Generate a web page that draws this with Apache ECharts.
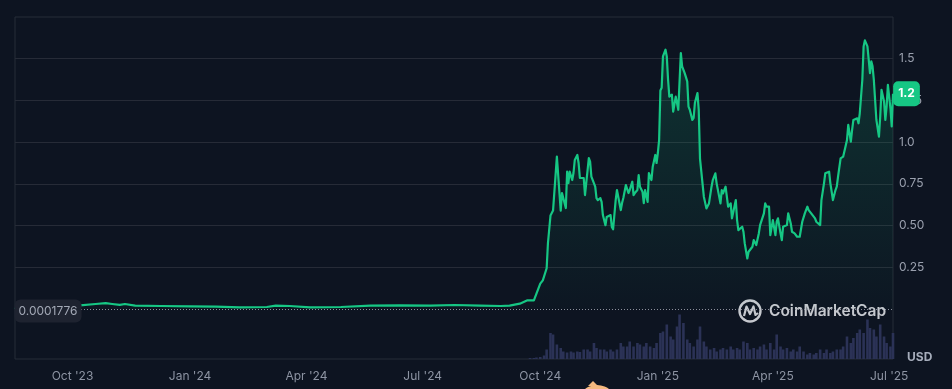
<!DOCTYPE html>
<html><head><meta charset="utf-8">
<script src="https://cdn.jsdelivr.net/npm/echarts@6/dist/echarts.min.js"></script>
<style>html,body{margin:0;padding:0;background:#0d1421;}#c{width:952px;height:389px;}</style>
</head><body><div id="c"></div>
<script>
const priceDates = [
'2023-08-17','2023-08-21','2023-09-22','2023-10-07','2023-10-19','2023-10-27','2023-11-01','2023-11-07','2023-11-11','2023-11-19','2023-12-09','2024-01-01','2024-01-21','2024-02-09','2024-03-01','2024-03-08','2024-03-19','2024-04-04','2024-04-28','2024-05-21','2024-06-13','2024-07-07','2024-07-26','2024-08-15','2024-08-31','2024-09-07',
'2024-09-15','2024-09-21','2024-09-26','2024-10-01','2024-10-03','2024-10-06','2024-10-07','2024-10-09','2024-10-11','2024-10-14','2024-10-17','2024-10-18','2024-10-19','2024-10-21','2024-10-22','2024-10-23','2024-10-24','2024-10-26','2024-10-27','2024-10-28','2024-10-30','2024-10-31',
'2024-11-01','2024-11-04','2024-11-05','2024-11-06','2024-11-08','2024-11-09','2024-11-10','2024-11-11','2024-11-13','2024-11-14','2024-11-15','2024-11-17','2024-11-18','2024-11-19','2024-11-21','2024-11-22','2024-11-23','2024-11-25','2024-11-26','2024-11-27','2024-11-29','2024-11-30',
'2024-12-01','2024-12-03','2024-12-04','2024-12-05','2024-12-07','2024-12-08','2024-12-09','2024-12-10','2024-12-12','2024-12-13','2024-12-14','2024-12-16','2024-12-17','2024-12-18','2024-12-20','2024-12-21','2024-12-22','2024-12-24','2024-12-25','2024-12-26','2024-12-27','2024-12-28','2024-12-30','2024-12-31',
'2025-01-01','2025-01-02','2025-01-03','2025-01-04','2025-01-05','2025-01-07','2025-01-08','2025-01-09','2025-01-10','2025-01-12','2025-01-13','2025-01-15','2025-01-16','2025-01-17','2025-01-19','2025-01-20','2025-01-21','2025-01-22','2025-01-24','2025-01-25','2025-01-26','2025-01-28','2025-01-29','2025-01-30',
'2025-02-01','2025-02-02','2025-02-03','2025-02-06','2025-02-08','2025-02-10','2025-02-11','2025-02-12','2025-02-13','2025-02-15','2025-02-16','2025-02-19','2025-02-20','2025-02-21','2025-02-23','2025-02-24','2025-02-25','2025-02-27','2025-02-28',
'2025-03-01','2025-03-03','2025-03-04','2025-03-05','2025-03-08','2025-03-09','2025-03-10','2025-03-12','2025-03-13','2025-03-14','2025-03-16','2025-03-17','2025-03-19','2025-03-21','2025-03-22','2025-03-23','2025-03-25','2025-03-26','2025-03-27','2025-03-29','2025-03-30','2025-03-31',
'2025-04-01','2025-04-03','2025-04-04','2025-04-05','2025-04-07','2025-04-08','2025-04-09','2025-04-12','2025-04-13','2025-04-15','2025-04-16','2025-04-18','2025-04-20','2025-04-22','2025-04-24','2025-04-25','2025-04-26','2025-04-28','2025-04-29',
'2025-05-01','2025-05-04','2025-05-05','2025-05-08','2025-05-09','2025-05-11','2025-05-12','2025-05-13','2025-05-15','2025-05-16','2025-05-17','2025-05-18','2025-05-20','2025-05-21','2025-05-22','2025-05-24','2025-05-26','2025-05-29','2025-05-30',
'2025-06-01','2025-06-02','2025-06-03','2025-06-04','2025-06-06','2025-06-07','2025-06-08','2025-06-10','2025-06-11','2025-06-12','2025-06-14','2025-06-15','2025-06-16','2025-06-17','2025-06-18','2025-06-19','2025-06-20','2025-06-21','2025-06-23','2025-06-24','2025-06-25','2025-06-27','2025-06-28','2025-06-29','2025-06-30',
'2025-07-02','2025-07-03','2025-07-04'
];
const priceValues = [
0.0001776,0.016,0.02,0.022,0.03,0.035,0.03,0.025,0.03,0.02,0.018,0.016,0.014,0.01,0.012,0.02,0.018,0.01,0.012,0.02,0.022,0.02,0.024,0.02,0.018,0.02,
0.032,0.052,0.052,0.152,0.172,0.244,0.394,0.56,0.59,0.913,0.59,0.695,0.695,0.605,0.823,0.755,0.823,0.773,0.815,0.893,0.923,0.875,
0.785,0.785,0.683,0.672,0.905,0.883,0.793,0.785,0.733,0.665,0.653,0.665,0.642,0.563,0.502,0.552,0.545,0.563,0.492,0.478,0.653,0.713,
0.713,0.593,0.635,0.665,0.743,0.733,0.695,0.713,0.763,0.683,0.695,0.713,0.803,0.733,0.703,0.635,0.713,0.642,0.815,0.793,0.773,0.853,0.923,0.875,
0.935,1.013,1.31,1.326,1.514,1.554,1.514,1.374,1.273,1.284,1.183,1.273,1.273,1.194,1.534,1.454,1.464,1.414,1.364,1.213,1.194,1.133,1.145,1.236,
1.294,1.194,0.9,0.673,0.603,0.633,0.633,0.733,0.773,0.813,0.753,0.633,0.713,0.693,0.733,0.733,0.613,0.633,0.543,
0.533,0.653,0.533,0.473,0.493,0.463,0.393,0.303,0.343,0.353,0.373,0.413,0.383,0.453,0.503,0.513,0.573,0.633,0.613,0.613,0.443,0.443,
0.533,0.443,0.523,0.543,0.453,0.413,0.493,0.503,0.573,0.513,0.463,0.453,0.433,0.433,0.523,0.533,0.573,0.613,0.593,
0.573,0.543,0.523,0.503,0.653,0.753,0.813,0.803,0.823,0.753,0.703,0.653,0.713,0.733,0.793,0.903,0.913,1.013,1.103,
1.003,1.073,1.133,1.123,1.143,1.113,1.173,1.374,1.574,1.61,1.574,1.494,1.414,1.484,1.454,1.374,1.254,1.133,1.033,1.154,1.314,1.244,1.133,1.213,1.344,
1.203,1.094,1.29
];
const volumeDates = [
'2024-09-23','2024-09-26','2024-09-28','2024-10-01','2024-10-04','2024-10-06','2024-10-09','2024-10-11','2024-10-14','2024-10-17','2024-10-19','2024-10-22','2024-10-25','2024-10-27','2024-10-30',
'2024-11-01','2024-11-04','2024-11-07','2024-11-09','2024-11-12','2024-11-14','2024-11-17','2024-11-20','2024-11-22','2024-11-25','2024-11-27','2024-11-30',
'2024-12-03','2024-12-05','2024-12-08','2024-12-10','2024-12-13','2024-12-16','2024-12-18','2024-12-21','2024-12-23','2024-12-26','2024-12-29','2024-12-31',
'2025-01-03','2025-01-05','2025-01-08','2025-01-11','2025-01-13','2025-01-16','2025-01-18','2025-01-21','2025-01-24','2025-01-26','2025-01-29',
'2025-02-01','2025-02-03','2025-02-06','2025-02-08','2025-02-11','2025-02-14','2025-02-16','2025-02-19','2025-02-21','2025-02-24','2025-02-27',
'2025-03-01','2025-03-04','2025-03-06','2025-03-09','2025-03-12','2025-03-14','2025-03-17','2025-03-20','2025-03-22','2025-03-25','2025-03-27','2025-03-30',
'2025-04-02','2025-04-04','2025-04-07','2025-04-09','2025-04-12','2025-04-15','2025-04-17','2025-04-20','2025-04-22','2025-04-25','2025-04-28','2025-04-30',
'2025-05-03','2025-05-05','2025-05-08','2025-05-11','2025-05-13','2025-05-16','2025-05-18','2025-05-21','2025-05-24','2025-05-26','2025-05-29',
'2025-06-01','2025-06-03','2025-06-06','2025-06-08','2025-06-11','2025-06-14','2025-06-16','2025-06-19','2025-06-21','2025-06-24','2025-06-27','2025-06-29',
'2025-07-02','2025-07-04'
];
const volumeValues = [
2,2,3,4,7,19,52,49,29,22,15,13,15,13,15,
14,19,19,15,32,22,19,19,15,19,15,19,
32,25,25,35,25,32,29,25,32,25,22,32,
52,55,69,45,39,65,89,72,39,32,25,
39,65,35,25,19,22,15,19,22,19,25,
19,22,19,35,32,19,22,19,25,29,19,32,
19,49,25,19,22,15,19,15,25,15,9,12,
9,12,19,12,19,12,15,19,19,25,45,
32,42,52,59,52,79,62,59,45,69,45,32,
25,52
];
const xTickDates = ['2023-10-01','2024-01-01','2024-04-01','2024-07-01','2024-10-01','2025-01-01','2025-04-01','2025-07-01'];
const xTickLabels = ["Oct '23","Jan '24","Apr '24","Jul '24","Oct '24","Jan '25","Apr '25","Jul '25"];
const yTickValues = [0.25,0.5,0.75,1,1.25,1.5];
const yTickLabels = ['0.25','0.50','0.75','1.0','1.25','1.5'];
const baselineValue = 0.0001776;
const baselineLabel = '0.0001776';
const lastPriceLabel = '1.2';
const axisMinDate = '2023-08-17';
const axisMaxDate = '2025-07-04';
const currencyLabel = 'USD';
const watermarkText = 'CoinMarketCap';

const ts = s => Date.parse(s + 'T00:00:00Z');
const xMin = ts(axisMinDate), xMax = ts(axisMaxDate);
const xTicks = xTickDates.map(ts);
const priceData = priceDates.map((d, i) => [ts(d), priceValues[i]]);
const volumeData = volumeDates.map((d, i) => [ts(d), volumeValues[i]]);
const first = priceData[0], last = priceData[priceData.length - 1];

const chart = echarts.init(document.getElementById('c'), null, {renderer: 'canvas'});
const FONT = 'Inter, "Noto Sans", sans-serif';
chart.setOption({
  backgroundColor: '#0d1421',
  animation: false,
  grid: [
    {left: 15, right: 59, top: 17, bottom: 80},
    {left: 15, right: 59, top: 17, bottom: 30, show: true, borderColor: '#272c38', borderWidth: 1, backgroundColor: 'transparent'}
  ],
  xAxis: [
    {gridIndex: 0, type: 'value', min: xMin, max: xMax, show: false},
    {gridIndex: 1, type: 'value', min: xMin, max: xMax,
     axisLine: {show: false}, axisTick: {show: false}, splitLine: {show: false},
     axisLabel: {customValues: xTicks, margin: 11, color: '#8d94a3', fontSize: 12, fontFamily: FONT,
       formatter: v => { const i = xTicks.indexOf(v); return i >= 0 ? xTickLabels[i] : ''; }}}
  ],
  yAxis: [
    {gridIndex: 0, type: 'value', position: 'right', min: 0, max: 1.75, interval: 0.25,
     axisLine: {show: false}, axisTick: {show: false},
     splitLine: {show: true, showMinLine: false, showMaxLine: false, lineStyle: {color: '#262b37', width: 1}},
     axisLabel: {margin: 6, color: '#9aa0ae', fontSize: 12, fontFamily: FONT,
       formatter: v => { const i = yTickValues.findIndex(t => Math.abs(t - v) < 1e-9); return i >= 0 ? yTickLabels[i] : ''; }}},
    {gridIndex: 1, type: 'value', min: 0, max: 684, show: false}
  ],
  series: [
    {type: 'bar', xAxisIndex: 1, yAxisIndex: 1, data: volumeData, barWidth: 2.6, z: 1,
     itemStyle: {color: '#2b3256'}, silent: true},
    {type: 'line', xAxisIndex: 0, yAxisIndex: 0, data: priceData, showSymbol: false, z: 3,
     lineStyle: {color: '#16c784', width: 2.2, join: 'round'},
     areaStyle: {color: new echarts.graphic.LinearGradient(0, 0, 0, 1, [
       {offset: 0, color: 'rgba(22,199,132,0.26)'}, {offset: 1, color: 'rgba(22,199,132,0.02)'}])},
     markLine: {silent: true, symbol: 'none', animation: false,
       lineStyle: {type: [1, 2], color: '#8b919c', width: 1},
       label: {show: false}, data: [{yAxis: baselineValue}]},
     markPoint: {silent: true, symbol: 'circle', symbolSize: 1, itemStyle: {color: 'rgba(0,0,0,0)'},
       data: [
         {coord: first, label: {show: true, position: 'inside', offset: [33, 2], formatter: baselineLabel,
           color: '#a3a9b6', fontSize: 12, fontFamily: FONT, backgroundColor: '#1e2330', borderRadius: 6, padding: [5, 4], lineHeight: 13}},
         {coord: last, label: {show: true, position: 'inside', offset: [13.5, 0], formatter: lastPriceLabel,
           color: '#ffffff', fontSize: 12, fontWeight: 'bold', fontFamily: FONT, backgroundColor: '#16c784', borderRadius: 5, padding: [6, 5], lineHeight: 13}}
       ]}}
  ],
  graphic: [
    {type: 'text', left: 907, top: 351, style: {text: currencyLabel, fill: '#a6adbb', font: 'bold 12px ' + FONT}},
    {type: 'group', z: 10, children: [
      {type: 'circle', shape: {cx: 750, cy: 311, r: 10.5}, style: {fill: 'none', stroke: 'rgba(230,232,236,0.85)', lineWidth: 2.4}},
      {type: 'polyline', shape: {points: [[744, 316], [746.5, 306.5], [750, 314], [753.5, 306.5], [755.5, 315], [758, 313]]},
       style: {fill: 'none', stroke: 'rgba(230,232,236,0.85)', lineWidth: 2.2, lineJoin: 'round'}},
      {type: 'text', x: 769, y: 303, style: {text: watermarkText, fill: 'rgba(230,232,236,0.85)', font: '600 15.5px ' + FONT}}
    ]},
    {type: 'circle', shape: {cx: 597, cy: 405, r: 20}, style: {fill: '#f5b97f'}},
    {type: 'polygon', shape: {points: [[588, 386], [593, 381], [598, 386]]}, style: {fill: '#f5b97f'}}
  ]
});
</script></body></html>
